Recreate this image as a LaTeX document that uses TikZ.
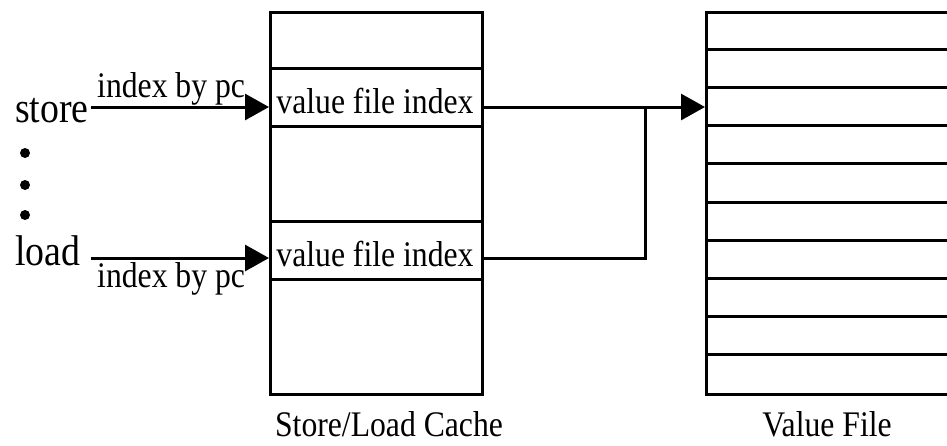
\documentclass[tikz,border=0pt]{standalone}
\usepackage{fontspec}
\setmainfont{Liberation Serif}[FakeStretch=0.88]
\usepackage{tikz}
\usetikzlibrary{positioning,arrows.meta}

\begin{document}
\begin{tikzpicture}[x=1pt, y=-1pt]
        \tikzstyle{every node}=[inner sep=0pt, font=\fontsize{36}{40}\selectfont]
        \tikzstyle{box}=[draw, line width=3pt, anchor=north west]
        \tikzstyle{side}=[anchor=base west, font=\fontsize{43}{46}\selectfont]
        \tikzstyle{link}=[line width=3pt]
        \tikzstyle{arr}=[link, -{Triangle[length=24pt, width=26pt]}]
        \useasboundingbox (0,0) rectangle (947,445);
        \clip (0,0) rectangle (947,445);

        \node   (cache)  [box, minimum width=212pt, minimum height=382pt] at (269,11) {};
        \node   (slot1)  [box, minimum width=212pt, minimum height=58pt] at (269,67) {};
        \node   (slot2)  [box, minimum width=212pt, minimum height=58pt] at (269,220) {};
        \node   (vf)     [box, minimum width=400pt, minimum height=382pt] at (705,11) {};
        \foreach \i in {1,...,9}
            \draw[link] (705,{11+38.2*\i}) -- (947,{11+38.2*\i});

        \node   (v1)     [anchor=base] at (375,113) {value file index};
        \node   (v2)     [anchor=base] at (375,266) {value file index};
        \node   (store)  [side] at (15,122) {store};
        \node   (load)   [side] at (15,265) {load};
        \node   (lab1)   [anchor=base west] at (97,97) {index by pc};
        \node   (lab2)   [anchor=base west] at (97,287) {index by pc};
        \node   (cname)  [anchor=base] at (389,436) {Store/Load Cache};
        \node   (vname)  [anchor=base] at (827,436) {Value File};

        \foreach \y in {153,185,215}
            \fill (25,\y) circle (5pt);

        \coordinate (src1) at (91,107);
        \coordinate (src2) at (91,258);
        \coordinate (in1)  at (269,107);
        \coordinate (in2)  at (269,258);
        \coordinate (join) at (645,107);

        \draw[arr] (src1) -- (in1);
        \draw[arr] (src2) -- (in2);
        \draw[arr] (cache.east |- in1) -- (vf.west |- in1);
        \draw[link] (cache.east |- in2) -| (join);

    \end{tikzpicture}
\end{document}
